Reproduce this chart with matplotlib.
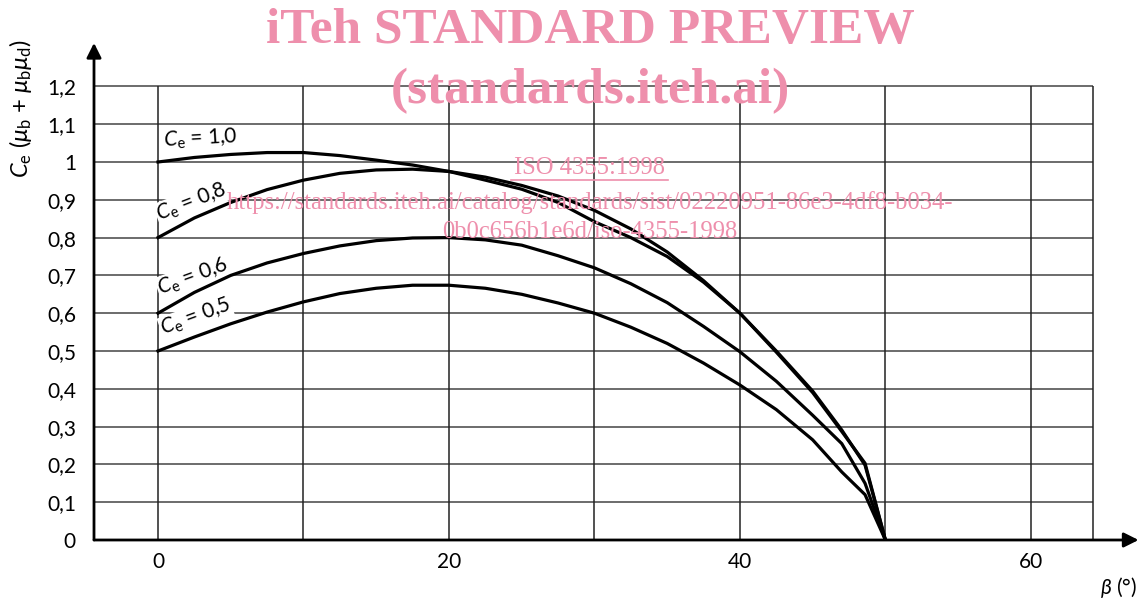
import matplotlib
matplotlib.use("Agg")
import matplotlib.pyplot as plt

plt.rcParams['font.family'] = ['Lato', 'DejaVu Sans']
plt.rcParams['mathtext.fontset'] = 'custom'
plt.rcParams['mathtext.rm'] = 'Lato'
plt.rcParams['mathtext.it'] = 'Lato:italic'

# beta (deg) sample points
beta = [0, 2.5, 5, 7.5, 10, 12.5, 15, 17.5, 20, 22.5, 25, 27.5, 30,
        32.5, 35, 37.5, 40, 42.5, 45, 47, 48.6, 50]

ce_10 = [1.000, 1.012, 1.020, 1.025, 1.025, 1.017, 1.005, 0.992, 0.975,
         0.952, 0.928, 0.893, 0.842, 0.800, 0.750, 0.682, 0.600, 0.497,
         0.390, 0.287, 0.203, 0.0]
ce_08 = [0.800, 0.852, 0.893, 0.927, 0.952, 0.970, 0.979, 0.981, 0.975,
         0.960, 0.938, 0.910, 0.872, 0.823, 0.762, 0.686, 0.600, 0.500,
         0.394, 0.291, 0.198, 0.0]
ce_06 = [0.600, 0.655, 0.700, 0.733, 0.758, 0.778, 0.792, 0.799, 0.800,
         0.794, 0.780, 0.752, 0.720, 0.678, 0.628, 0.565, 0.498, 0.420,
         0.330, 0.255, 0.150, 0.0]
ce_05 = [0.500, 0.537, 0.572, 0.603, 0.630, 0.652, 0.666, 0.674, 0.674,
         0.666, 0.650, 0.627, 0.600, 0.563, 0.520, 0.468, 0.410, 0.345,
         0.265, 0.180, 0.120, 0.0]

y_ticks = [0, 0.1, 0.2, 0.3, 0.4, 0.5, 0.6, 0.7, 0.8, 0.9, 1.0, 1.1, 1.2]
y_labels = ["0", "0,1", "0,2", "0,3", "0,4", "0,5", "0,6", "0,7", "0,8",
            "0,9", "1", "1,1", "1,2"]
x_ticks = [0, 20, 40, 60]
x_grid = [0, 10, 20, 30, 40, 50, 60, 64.3]

fig = plt.figure(figsize=(11.46, 6.03), dpi=100)
ax = fig.add_axes([94 / 1146, 63 / 603, 1046 / 1146, 500 / 603])
x0, x1 = -4.4, 67.5
ax.set_xlim(x0, x1)
ax.set_ylim(0, 500 / 378)
for s in ax.spines.values():
    s.set_visible(False)

# grid
ax.hlines(y_ticks[1:], x0, 64.3, color='#444444', lw=1.1, zorder=1)
ax.vlines(x_grid, 0, 1.2, color='#222222', lw=1.1, zorder=1)

# axes with arrows
ax.annotate('', xy=(67.4, 0), xytext=(x0, 0), annotation_clip=False,
            arrowprops=dict(arrowstyle='-|>', lw=2, color='k',
                            mutation_scale=22, shrinkA=0, shrinkB=0))
ax.annotate('', xy=(x0, 1.315), xytext=(x0, 0), annotation_clip=False,
            arrowprops=dict(arrowstyle='-|>', lw=2, color='k',
                            mutation_scale=22, shrinkA=0, shrinkB=0))

for ys in (ce_05, ce_06, ce_08, ce_10):
    ax.plot(beta, ys, color='k', lw=2.3, zorder=3, solid_joinstyle='round')

ax.set_yticks(y_ticks, y_labels)
ax.set_xticks(x_ticks, [str(v) for v in x_ticks])
ax.tick_params(axis='y', length=0, pad=13, labelsize=15)
ax.tick_params(axis='x', length=0, pad=9, labelsize=15)

bb = dict(facecolor='white', edgecolor='none', pad=0.5)
lab = dict(fontsize=15, ha='center', va='center', bbox=bb, zorder=2)
ax.text(2.9, 1.061, r'$C_\mathrm{e}$ = 1,0', rotation=3, **lab)
ax.text(2.3, 0.894, r'$C_\mathrm{e}$ = 0,8', rotation=21, **lab)
ax.text(2.4, 0.697, r'$C_\mathrm{e}$ = 0,6', rotation=20, **lab)
ax.text(2.6, 0.59, r'$C_\mathrm{e}$ = 0,5', rotation=20, **lab)

fig.text(1137 / 1146, 1 - 588 / 603, r'$\beta$ (°)', fontsize=15,
         ha='right', va='center')
fig.text(21 / 1146, 1 - 109 / 603,
         r'$C_\mathrm{e}$ ($\mu_\mathrm{b}$ + $\mu_\mathrm{b}\mu_\mathrm{d}$)',
         fontsize=17, rotation=90, ha='center', va='center')

# watermark
pink = '#ee8fac'
serif = ['Liberation Serif', 'DejaVu Serif']
fig.text(590 / 1146, 1 - 31 / 603, 'iTeh STANDARD PREVIEW', color=pink,
         fontsize=37, fontweight='bold', family=serif, ha='center', va='center')
fig.text(590 / 1146, 1 - 91 / 603, '(standards.iteh.ai)', color=pink,
         fontsize=37, fontweight='bold', family=serif, ha='center', va='center')
fig.text(590 / 1146, 1 - 168 / 603, 'ISO 4355:1998', color=pink,
         fontsize=17.7, family=serif, ha='center', va='center')
fig.text(590 / 1146, 1 - 203 / 603,
         'https://standards.iteh.ai/catalog/standards/sist/02220951-86e3-4df8-b034-',
         color=pink, fontsize=17.7, family=serif, ha='center', va='center')
fig.text(590 / 1146, 1 - 232 / 603, '0b0c656b1e6d/iso-4355-1998',
         color=pink, fontsize=17.7, family=serif, ha='center', va='center')
fig.add_artist(plt.Line2D([511 / 1146, 668 / 1146],
                          [1 - 180 / 603, 1 - 180 / 603],
                          color=pink, lw=1.2))

fig.savefig('out.png', dpi=100)
